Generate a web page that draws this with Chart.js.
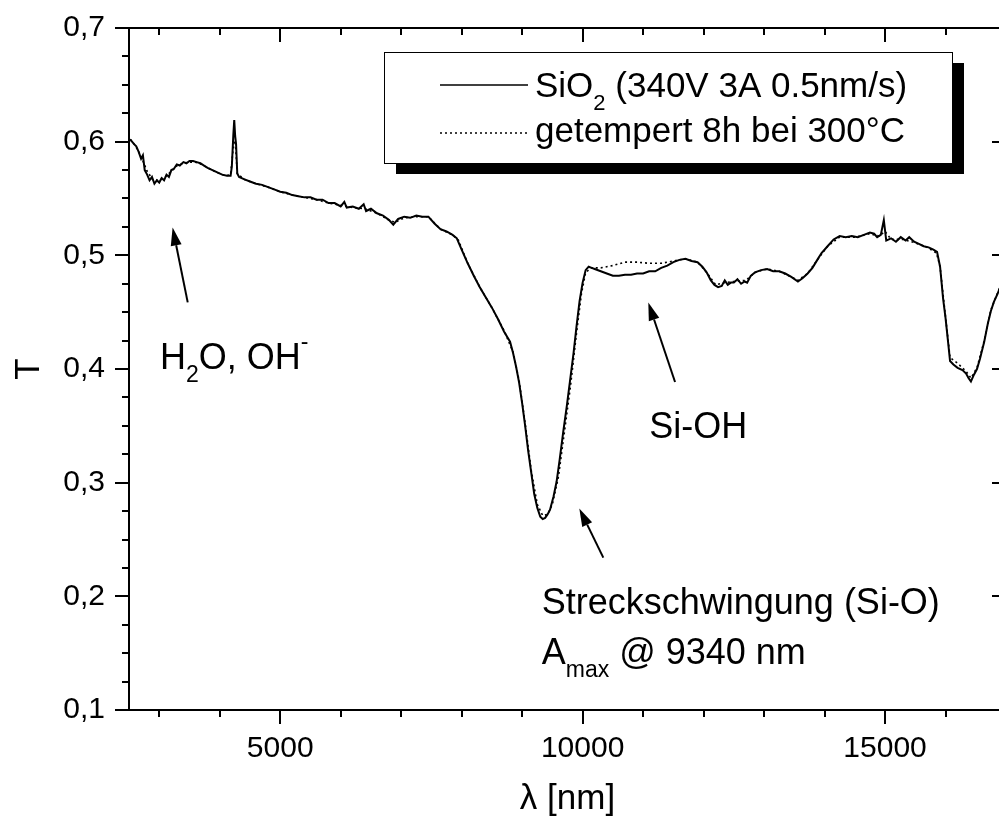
<!DOCTYPE html>
<html><head><meta charset="utf-8">
<script src="https://cdn.jsdelivr.net/npm/chart.js@4.4.1/dist/chart.umd.min.js"></script>
<style>
html,body{margin:0;padding:0;overflow:hidden;background:#fff;width:999px;height:816px}
#wrap{position:absolute;left:0;top:0;width:1015px;height:816px}
</style>
</head><body><div id="wrap"><canvas id="c" width="1015" height="816"></canvas></div>
<script>
// ---------- data ----------
const lambda1 = [2520,2580,2620,2660,2700,2730,2760,2800,2840,2880,2920,2960,3000,3040,3080,3120,3160,3200,3240,3290,3340,3400,3450,3500,3560,3620,3680,3740,3800,3880,3960,4040,4120,4180,4200,4225,4240,4255,4270,4290,4320,4400,4500,4600,4700,4800,4900,5000,5100,5200,5300,5400,5500,5600,5700,5800,5900,6000,6060,6100,6200,6300,6380,6420,6500,6600,6700,6800,6870,6950,7050,7150,7250,7350,7450,7550,7650,7750,7850,7920,8000,8100,8200,8300,8400,8500,8600,8700,8800,8850,8900,8950,9000,9050,9100,9150,9200,9250,9300,9340,9380,9420,9460,9520,9570,9620,9680,9740,9790,9850,9900,9950,10000,10050,10100,10150,10200,10300,10400,10500,10600,10700,10800,10900,11000,11100,11200,11300,11400,11500,11600,11700,11800,11900,11980,12050,12120,12180,12240,12300,12350,12400,12450,12500,12560,12620,12680,12720,12780,12850,12950,13050,13150,13250,13350,13450,13560,13640,13720,13800,13880,13950,14050,14150,14250,14350,14450,14550,14650,14750,14820,14870,14930,14980,15020,15100,15180,15260,15340,15400,15480,15560,15640,15720,15800,15860,15910,15960,16000,16040,16075,16130,16200,16280,16340,16380,16420,16470,16520,16570,16640,16700,16750,16800,16860,16920,16980];
const trans1 = [0.602,0.598,0.596,0.591,0.585,0.588,0.575,0.571,0.566,0.569,0.563,0.566,0.564,0.568,0.566,0.571,0.569,0.575,0.576,0.580,0.579,0.582,0.581,0.583,0.583,0.582,0.581,0.579,0.577,0.575,0.573,0.571,0.570,0.570,0.578,0.606,0.619,0.605,0.598,0.572,0.569,0.567,0.565,0.563,0.562,0.560,0.558,0.556,0.555,0.553,0.552,0.551,0.551,0.549,0.549,0.546,0.546,0.543,0.547,0.542,0.543,0.541,0.545,0.539,0.541,0.537,0.535,0.531,0.527,0.532,0.534,0.533,0.535,0.534,0.534,0.528,0.523,0.521,0.518,0.515,0.505,0.493,0.482,0.472,0.463,0.454,0.444,0.433,0.424,0.414,0.402,0.388,0.370,0.350,0.328,0.309,0.290,0.278,0.270,0.268,0.269,0.272,0.276,0.288,0.301,0.320,0.345,0.368,0.389,0.414,0.438,0.460,0.476,0.487,0.490,0.489,0.488,0.486,0.484,0.482,0.482,0.483,0.483,0.484,0.484,0.486,0.486,0.489,0.491,0.494,0.496,0.497,0.495,0.494,0.490,0.485,0.478,0.474,0.472,0.473,0.478,0.474,0.476,0.476,0.479,0.475,0.477,0.476,0.482,0.485,0.487,0.488,0.486,0.486,0.484,0.481,0.477,0.480,0.484,0.489,0.496,0.502,0.508,0.514,0.517,0.516,0.517,0.516,0.518,0.520,0.519,0.516,0.518,0.531,0.513,0.515,0.512,0.516,0.513,0.516,0.512,0.510,0.508,0.507,0.505,0.503,0.490,0.462,0.445,0.425,0.407,0.404,0.401,0.399,0.396,0.392,0.389,0.395,0.400,0.409,0.424,0.440,0.451,0.459,0.466,0.474,0.482];

const lambda2 = [2520,2600,2700,2800,2900,3000,3100,3200,3300,3400,3500,3600,3700,3800,3950,4100,4180,4215,4240,4260,4290,4400,4600,4800,5000,5200,5400,5600,5800,6000,6200,6400,6600,6800,6900,7050,7250,7450,7650,7850,7950,8100,8300,8500,8700,8850,8950,9050,9150,9250,9340,9420,9500,9600,9700,9800,9900,9980,10050,10150,10300,10500,10700,10900,11100,11300,11500,11700,11900,12050,12200,12350,12500,12700,12850,13050,13250,13450,13560,13720,13880,14050,14250,14500,14750,14900,15000,15100,15300,15500,15700,15850,15910,16000,16075,16200,16340,16420,16520,16640,16750,16860,16980];
const trans2 = [0.602,0.597,0.587,0.574,0.566,0.566,0.569,0.574,0.579,0.581,0.582,0.582,0.580,0.577,0.573,0.570,0.571,0.590,0.601,0.598,0.572,0.567,0.563,0.560,0.556,0.553,0.551,0.549,0.546,0.544,0.542,0.541,0.537,0.531,0.529,0.533,0.534,0.534,0.523,0.518,0.513,0.493,0.472,0.454,0.434,0.415,0.390,0.352,0.311,0.281,0.271,0.272,0.281,0.305,0.345,0.385,0.432,0.466,0.485,0.489,0.489,0.491,0.494,0.494,0.493,0.493,0.495,0.497,0.494,0.485,0.474,0.476,0.477,0.478,0.485,0.488,0.486,0.481,0.478,0.484,0.496,0.508,0.516,0.516,0.519,0.517,0.521,0.514,0.514,0.511,0.507,0.502,0.490,0.446,0.410,0.405,0.398,0.392,0.401,0.425,0.452,0.467,0.482];

const seriesNames = ['SiO|2| (340V 3A 0.5nm/s)', 'getempert 8h bei 300°C'];
const xRange = [2500, 17000];
const yRange = [0.1, 0.7];
const xMajorTicks = [5000, 10000, 15000];
const yMajorTicks = [0.1, 0.2, 0.3, 0.4, 0.5, 0.6, 0.7];
const xMinorStep = 1000;
const yMinorStep = 0.025;
const xTitle = 'λ [nm]';
const yTitle = 'T';

// annotations (data units)
const annotTexts = [
  [['H','n'],['2','sub'],['O, OH','n'],['-','sup']],
  [['Si-OH','n']],
  [['Streckschwingung (Si-O)','n']],
  [['A','n'],['max','sub'],[' @ 9340 nm','n']]
];
const annotX = [3013, 11102, 9324, 9324];
const annotY = [0.4003, 0.3396, 0.1848, 0.1408];
const arrowTailX = [3471, 11528, 10342];
const arrowTailY = [0.4586, 0.3886, 0.2341];
const arrowTipX = [3221, 11086, 9945];
const arrowTipY = [0.5244, 0.4586, 0.2773];

// ---------- drawing ----------
const FONT = '"Liberation Sans", Arial, Helvetica, sans-serif';

function toPts(xs, ys){ return xs.map((x,i)=>({x:x, y:ys[i]})); }

function drawRich(ctx, x, y, parts, size){
  let cx = x;
  ctx.textBaseline = 'alphabetic';
  ctx.textAlign = 'left';
  for (const [t,k] of parts){
    const fs = k === 'n' ? size : Math.round(size*0.63);
    ctx.font = fs + 'px ' + FONT;
    const dy = k === 'sub' ? size*0.37 : (k === 'sup' ? -size*0.55 : 0);
    ctx.fillText(t, cx, y + dy);
    cx += ctx.measureText(t).width;
  }
}

const framePlugin = {
  id: 'frame',
  afterDraw(chart){
    const ctx = chart.ctx, a = chart.chartArea;
    const xs = chart.scales.x, ys = chart.scales.y;
    ctx.save();
    ctx.strokeStyle = '#000';
    ctx.lineWidth = 2;
    ctx.beginPath();
    ctx.rect(a.left, a.top, a.right - a.left, a.bottom - a.top);
    ctx.stroke();
    // x ticks
    ctx.beginPath();
    for (let v = Math.ceil(xRange[0]/xMinorStep)*xMinorStep; v <= xRange[1]; v += xMinorStep){
      const px = Math.round(xs.getPixelForValue(v));
      const major = xMajorTicks.includes(v);
      const L = major ? 14 : 7;
      ctx.moveTo(px, a.bottom); ctx.lineTo(px, a.bottom + L);
      ctx.moveTo(px, a.top); ctx.lineTo(px, a.top + L);
    }
    // y ticks
    const n = Math.round((yRange[1]-yRange[0])/yMinorStep);
    for (let i = 0; i <= n; i++){
      const v = yRange[0] + i*yMinorStep;
      const py = Math.round(ys.getPixelForValue(v));
      const major = i % 4 === 0;
      const L = major ? 14 : 7;
      ctx.moveTo(a.left, py); ctx.lineTo(a.left - L, py);
      ctx.moveTo(a.right, py); ctx.lineTo(a.right - L, py);
    }
    ctx.stroke();

    // arrows
    ctx.fillStyle = '#000';
    ctx.lineWidth = 2;
    for (let i = 0; i < arrowTailX.length; i++){
      const x0 = xs.getPixelForValue(arrowTailX[i]), y0 = ys.getPixelForValue(arrowTailY[i]);
      const x1 = xs.getPixelForValue(arrowTipX[i]), y1 = ys.getPixelForValue(arrowTipY[i]);
      const ang = Math.atan2(y1-y0, x1-x0);
      const hl = 18, hw = 5.5;
      const bx = x1 - hl*Math.cos(ang), by = y1 - hl*Math.sin(ang);
      ctx.beginPath(); ctx.moveTo(x0,y0); ctx.lineTo(bx,by); ctx.stroke();
      ctx.beginPath();
      ctx.moveTo(x1,y1);
      ctx.lineTo(bx + hw*Math.sin(ang), by - hw*Math.cos(ang));
      ctx.lineTo(bx - hw*Math.sin(ang), by + hw*Math.cos(ang));
      ctx.closePath(); ctx.fill();
    }
    // annotation texts
    for (let i = 0; i < annotTexts.length; i++){
      drawRich(ctx, xs.getPixelForValue(annotX[i]), ys.getPixelForValue(annotY[i]), annotTexts[i], 36);
    }

    // legend
    const L = {x:384, y:52, w:568, h:111, sh:12, sv:11};
    ctx.fillStyle = '#000';
    ctx.fillRect(L.x + L.sh, L.y + L.sv, L.w, L.h);
    ctx.fillStyle = '#fff';
    ctx.fillRect(L.x, L.y, L.w, L.h);
    ctx.lineWidth = 1;
    ctx.strokeStyle = '#000';
    ctx.strokeRect(L.x + 0.5, L.y + 0.5, L.w, L.h);
    const rows = [{ly:85, by:97, dash:[]}, {ly:133, by:142, dash:[2,3]}];
    ctx.fillStyle = '#000';
    for (let i = 0; i < seriesNames.length; i++){
      ctx.save();
      ctx.lineWidth = 1.5;
      ctx.setLineDash(rows[i].dash);
      ctx.beginPath(); ctx.moveTo(440, rows[i].ly); ctx.lineTo(528, rows[i].ly); ctx.stroke();
      ctx.restore();
      const segs = seriesNames[i].split('|').map((t,j)=>[t, j % 2 === 1 ? 'sub' : 'n']);
      drawRich(ctx, 535, rows[i].by, segs, 35);
    }
    ctx.restore();
  }
};

new Chart(document.getElementById('c'), {
  type: 'scatter',
  data: {
    datasets: [
      { label: seriesNames[0], data: toPts(lambda1, trans1), showLine: true, borderColor: '#000', borderWidth: 2, pointRadius: 0, tension: 0, fill: false },
      { label: seriesNames[1], data: toPts(lambda2, trans2), showLine: true, borderColor: '#000', borderWidth: 1.6, borderDash: [2,3], pointRadius: 0, tension: 0, fill: false }
    ]
  },
  options: {
    responsive: false,
    animation: false,
    devicePixelRatio: 1,
    layout: { padding: { left: 0, top: 24, right: 9, bottom: 0 } },
    plugins: { legend: { display: false }, tooltip: { enabled: false } },
    scales: {
      x: {
        type: 'linear', min: xRange[0], max: xRange[1],
        afterBuildTicks: s => { s.ticks = xMajorTicks.map(v => ({value: v})); },
        afterFit: s => { s.height = 106; },
        grid: { display: false, drawTicks: true, tickLength: 14 },
        border: { display: false },
        ticks: { color: '#000', font: { family: FONT, size: 30 }, padding: 7, maxRotation: 0, autoSkip: false, callback: v => String(v) },
        title: { display: true, text: xTitle, color: '#000', font: { family: FONT, size: 35 }, padding: { top: 0, bottom: -4 } }
      },
      y: {
        type: 'linear', min: yRange[0], max: yRange[1],
        afterBuildTicks: s => { s.ticks = yMajorTicks.map(v => ({value: v})); },
        afterFit: s => { s.width = 129; },
        grid: { display: false, drawTicks: true, tickLength: 14 },
        border: { display: false },
        ticks: { color: '#000', font: { family: FONT, size: 30 }, padding: 10, autoSkip: false, callback: v => v.toFixed(1).replace('.', ',') },
        title: { display: true, text: yTitle, color: '#000', font: { family: FONT, size: 35 }, padding: { top: 8, bottom: 0 } }
      }
    }
  },
  plugins: [framePlugin]
});
</script>
</body></html>
